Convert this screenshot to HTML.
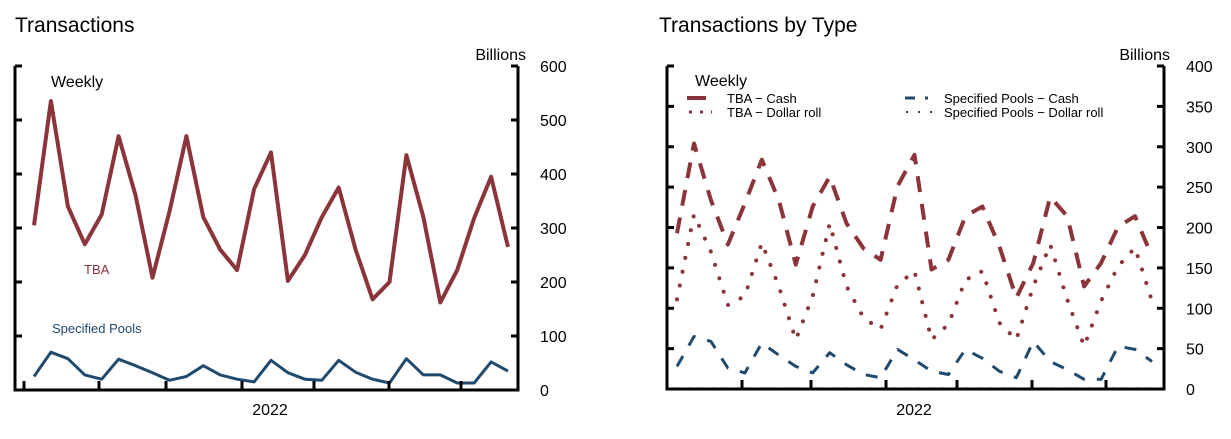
<!DOCTYPE html>
<html><head><meta charset="utf-8"><style>
body{margin:0;background:#fff;width:1231px;height:434px;overflow:hidden}
svg text{font-family:"Liberation Sans",Arial,sans-serif}
</style></head><body>
<svg id="c" width="1231" height="434">
<text x="15" y="32" font-size="21">Transactions</text>
<text x="659" y="32" font-size="21">Transactions by Type</text>
<text x="526" y="60" font-size="16" text-anchor="end">Billions</text>
<text x="1170" y="60" font-size="16" text-anchor="end">Billions</text>
<text x="51" y="87" font-size="16">Weekly</text>
<text x="84" y="274" font-size="13" fill="#8b3439">TBA</text>
<text x="52" y="333" font-size="13" fill="#1f4a6e">Specified Pools</text>
<text x="270" y="415" font-size="16" text-anchor="middle">2022</text>
<text x="914" y="415" font-size="16" text-anchor="middle">2022</text>
<g>
<text x="695" y="86" font-size="16">Weekly</text>
<line x1="687" y1="98" x2="706" y2="98" stroke="#8b3439" stroke-width="4"/>
<text x="727" y="103" font-size="13">TBA − Cash</text>
<line x1="689" y1="112" x2="712" y2="112" stroke="#8b3439" stroke-width="3" stroke-dasharray="3 8"/>
<text x="727" y="117" font-size="13">TBA − Dollar roll</text>
<line x1="905" y1="98" x2="934" y2="98" stroke="#1f4a6e" stroke-width="3" stroke-dasharray="10 10 3 10"/>
<text x="944" y="103" font-size="13">Specified Pools − Cash</text>
<line x1="906" y1="112" x2="934" y2="112" stroke="#1f4a6e" stroke-width="2" stroke-dasharray="2 10"/>
<text x="944" y="117" font-size="13">Specified Pools − Dollar roll</text>
</g>
</svg>
<script>
const leftTicks=[0,100,200,300,400,500,600];
const rightTicks=[0,50,100,150,200,250,300,350,400];
const tba=[305,535,340,270,325,470,360,208,330,470,320,260,222,372,440,202,250,320,375,260,168,200,435,320,162,222,318,395,265];
const specPools=[25,70,58,28,20,57,45,32,18,25,45,28,20,15,55,32,20,18,55,33,20,13,58,28,28,13,13,52,35];
const tbaCash=[193,304,234,179,230,284,234,154,226,263,205,174,160,251,290,148,160,214,226,177,113,156,238,214,127,156,201,214,164];
const tbaRoll=[111,216,170,104,115,181,127,61,115,205,127,88,74,129,146,61,80,135,146,82,61,127,179,111,53,109,152,175,109];
const spCash=[28,65,59,26,20,57,42,28,20,45,30,18,14,49,36,22,18,49,38,22,14,59,34,24,12,12,53,49,34];
const spRoll=[1,1,1,1,1,1,1,1,1,1,1,1,1,1,1,1,1,1,1,1,1,1,1,1,1,1,1,1,1];
const svg=document.getElementById('c');const NS='http://www.w3.org/2000/svg';
function mk(t,a){const e=document.createElementNS(NS,t);for(const k in a)e.setAttribute(k,a[k]);svg.appendChild(e);return e;}
function panel(p){
 const ys=v=>p.b-(v-0)/p.max*(p.b-p.t);
 const xs=i=>p.x0+i*(p.x1-p.x0)/28;
 p.series.forEach(s=>{
  const e=mk('path',{d:s.d.map((v,i)=>(i?'L':'M')+xs(i).toFixed(1)+','+ys(v).toFixed(1)).join(''),fill:'none',stroke:s.c,'stroke-width':s.w,'stroke-linejoin':'round','stroke-linecap':s.cap||'butt'});
  if(s.dash)e.setAttribute('stroke-dasharray',s.dash);
  
  
 });
 const ax=mk('path',{d:`M${p.l},${p.t}V${p.b}H${p.r}V${p.t}`,fill:'none',stroke:'#000','stroke-width':3});
 
 
 p.ticks.forEach(v=>{const y=ys(v);
  const t=mk('path',{d:`M${p.l},${y}h7M${p.r},${y}h-7`,stroke:'#000','stroke-width':3});
  
  
  const tx=mk('text',{x:p.r+22,y:y+6,'font-size':16});tx.textContent=v;
  
  
 });
 p.xt.forEach(x=>{const t=mk('path',{d:`M${x},${p.b}v-9`,stroke:'#000','stroke-width':3});
  
  });
}
const R='#8b3439',B='#1f4a6e';
panel({name:'left',l:15,r:518,t:66,b:390,x0:34,x1:508,max:600,ticks:leftTicks,xt:[24,99,166,242,314,389,461],
 series:[{d:tba,c:R,w:4,name:'tba-line'},{d:specPools,c:B,w:3,name:'specified-pools-line'}]});
panel({name:'right',l:667,r:1164,t:66,b:389,x0:677,x1:1152,max:400,ticks:rightTicks,xt:[667,742,811,886,957,1032,1106],
 series:[{d:tbaCash,c:R,w:4,dash:'16 12',name:'tba-cash-line'},{d:tbaRoll,c:R,w:4,dash:'0.1 14',cap:'round',name:'tba-dollar-roll-line'},
 {d:spCash,c:B,w:3,dash:'12 12',name:'specified-pools-cash-line'},{d:spRoll,c:B,w:2,dash:'0.1 12',cap:'round',name:'specified-pools-dollar-roll-line'}]});
</script>
</body></html>
